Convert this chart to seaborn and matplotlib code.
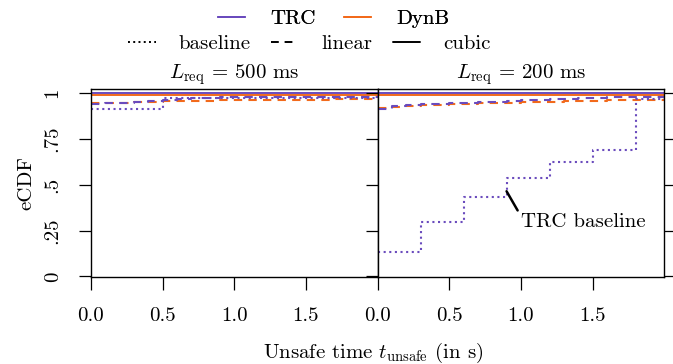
import numpy as np
import pandas as pd
import seaborn as sns
from matplotlib import pyplot as plt
from matplotlib.lines import Line2D

t_grid = [round(0.1 * i, 1) for i in range(21)]

# L_req = 500 ms
trc_linear_500 = [0.940, 0.944, 0.948, 0.952, 0.957, 0.962, 0.967, 0.972, 0.975, 0.977, 0.978,
                  0.978, 0.979, 0.979, 0.980, 0.980, 0.980, 0.981, 0.981, 0.981, 0.981]
dynb_linear_500 = [0.945, 0.947, 0.949, 0.951, 0.953, 0.955, 0.957, 0.959, 0.960, 0.961, 0.962,
                   0.963, 0.963, 0.964, 0.964, 0.965, 0.965, 0.966, 0.966, 0.966, 0.967]
trc_cubic_500 = [1.0] * 21
dynb_cubic_500 = [0.992] * 21
trc_base_500_t = [0.0, 0.5, 2.0]
trc_base_500 = [0.916, 0.975, 0.975]

# L_req = 200 ms
trc_linear_200 = [0.915, 0.930, 0.935, 0.939, 0.942, 0.945, 0.948, 0.951, 0.954, 0.957, 0.961,
                  0.964, 0.967, 0.970, 0.972, 0.975, 0.977, 0.978, 0.980, 0.981, 0.982]
dynb_linear_200 = [0.918, 0.926, 0.930, 0.934, 0.937, 0.940, 0.942, 0.944, 0.946, 0.948, 0.950,
                   0.952, 0.954, 0.956, 0.958, 0.960, 0.961, 0.962, 0.964, 0.965, 0.966]
trc_cubic_200 = [1.0] * 21
dynb_cubic_200 = [0.992] * 21
trc_base_200_t = [0.0, 0.3, 0.6, 0.9, 1.2, 1.5, 1.8, 2.0]
trc_base_200 = [0.136, 0.295, 0.433, 0.538, 0.623, 0.688, 0.968, 0.968]

titles = [r"$L_\mathrm{req}$ = 500 ms", r"$L_\mathrm{req}$ = 200 ms"]
x_ticks = [0.0, 0.5, 1.0, 1.5]
y_ticks = [0, 0.25, 0.5, 0.75, 1]
y_ticklabels = ["0", ".25", ".5", ".75", "1"]

TRC = "#6a4bbd"
DYNB = "#f26a1b"
DOT = (0, (1, 1.7))
DASH = (0, (4, 3))
FS = 15

sns.set_style("ticks")
plt.rcParams["font.family"] = ["cmr10", "DejaVu Serif"]
plt.rcParams["mathtext.fontset"] = "cm"
plt.rcParams["axes.unicode_minus"] = False
plt.rcParams["axes.formatter.use_mathtext"] = True
plt.rcParams["font.size"] = FS
plt.rcParams["text.color"] = "black"
plt.rcParams["axes.labelcolor"] = "black"

fig, axes = plt.subplots(1, 2, figsize=(6.73, 3.64), dpi=100, sharey=True)
fig.subplots_adjust(left=0.135, right=0.987, top=0.755, bottom=0.239, wspace=0)

panels = [
    (trc_linear_500, dynb_linear_500, trc_cubic_500, dynb_cubic_500, trc_base_500_t, trc_base_500),
    (trc_linear_200, dynb_linear_200, trc_cubic_200, dynb_cubic_200, trc_base_200_t, trc_base_200),
]

for ax, title, (tl, dl, tc, dc, bt, bv) in zip(axes, titles, panels):
    df = pd.DataFrame({"t": t_grid, "tl": tl, "dl": dl, "tc": tc, "dc": dc})
    sns.lineplot(data=df, x="t", y="dc", ax=ax, color=DYNB, lw=1.4, drawstyle="steps-post")
    sns.lineplot(data=df, x="t", y="tc", ax=ax, color=TRC, lw=1.4, drawstyle="steps-post")
    sns.lineplot(data=df, x="t", y="dl", ax=ax, color=DYNB, lw=1.5, linestyle=DASH, drawstyle="steps-post")
    sns.lineplot(data=df, x="t", y="tl", ax=ax, color=TRC, lw=1.5, linestyle=DASH, drawstyle="steps-post")
    sns.lineplot(x=bt, y=bv, ax=ax, color=TRC, lw=1.5, linestyle=DOT, drawstyle="steps-post")

    ax.set_title(title, fontsize=FS, pad=8)
    ax.set_xlim(0, 2)
    ax.set_ylim(-0.003, 1.022)
    ax.set_xticks(x_ticks)
    ax.set_xticklabels([f"{v:.1f}" for v in x_ticks])
    ax.set_yticks(y_ticks)
    ax.set_xlabel("")
    ax.set_ylabel("")
    for s in ax.spines.values():
        s.set_visible(True)
        s.set_linewidth(1.0)
        s.set_color("black")
    ax.tick_params(direction="out", length=9, width=0.9, colors="black", labelsize=FS)
    ax.tick_params(axis="x", pad=13)
    ax.tick_params(axis="y", pad=12)

axes[0].set_yticklabels(y_ticklabels, rotation=90, va="center")
axes[0].set_ylabel("eCDF", fontsize=FS, labelpad=6)
axes[1].tick_params(left=True, right=True, labelleft=False)

axes[1].annotate("TRC baseline", xy=(0.9, 0.465), xytext=(1.0, 0.295),
                 ha="left", va="center", fontsize=FS,
                 arrowprops=dict(arrowstyle="-", color="black", lw=1.8, shrinkA=0, shrinkB=0,
                                 relpos=(0.0, 0.85)))

fig.text(0.555, 0.03, r"Unsafe time $t_\mathrm{unsafe}$ (in s)", ha="center", va="center", fontsize=FS)

color_handles = [Line2D([], [], color=TRC, lw=1.4), Line2D([], [], color=DYNB, lw=1.4)]
style_handles = [Line2D([], [], color="black", lw=1.4, linestyle=DOT),
                 Line2D([], [], color="black", lw=1.4, linestyle=DASH),
                 Line2D([], [], color="black", lw=1.4)]
leg1 = fig.legend(color_handles, ["TRC", "DynB"], loc="center", bbox_to_anchor=(0.496, 0.948),
                  ncol=2, frameon=False, fontsize=FS, handlelength=1.3, columnspacing=1.35,
                  handletextpad=1.2, borderpad=0, borderaxespad=0)
leg2 = fig.legend(style_handles, ["baseline", "linear", "cubic"], loc="center",
                  bbox_to_anchor=(0.46, 0.88), ncol=3, frameon=False, fontsize=FS,
                  handlelength=1.3, columnspacing=1.0, handletextpad=1.1, borderpad=0, borderaxespad=0)
fig.add_artist(leg1)

fig.savefig("out.png", dpi=100)
